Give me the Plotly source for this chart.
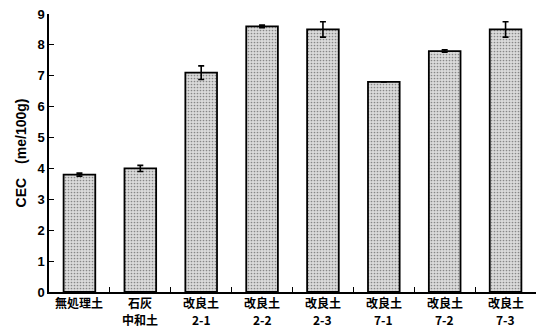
import plotly.graph_objects as go

# CEC of untreated, lime-neutralised and improved soils
categories = ["無処理土", "石灰中和土", "改良土2-1", "改良土2-2", "改良土2-3",
              "改良土7-1", "改良土7-2", "改良土7-3"]
label_line1 = ["無処理土", "石灰", "改良土", "改良土", "改良土", "改良土", "改良土", "改良土"]
label_line2 = ["", "中和土", "2-1", "2-2", "2-3", "7-1", "7-2", "7-3"]
cec_values = [3.8, 4.0, 7.1, 8.6, 8.5, 6.8, 7.8, 8.5]
cec_errors = [0.05, 0.1, 0.22, 0.04, 0.25, 0.0, 0.04, 0.25]
y_ticks = [0, 1, 2, 3, 4, 5, 6, 7, 8, 9]

fig = go.Figure(
    go.Bar(
        x=categories,
        y=cec_values,
        width=0.52,
        marker=dict(
            color="#dadada",
            line=dict(color="black", width=1.8),
            pattern=dict(shape=".", fgcolor="#333333", bgcolor="#dadada",
                         size=3, solidity=0.25),
        ),
        error_y=dict(type="data", array=cec_errors, color="black",
                     thickness=1.6, width=3),
    )
)

# two-row category labels under the axis
label_font = dict(family="Noto Sans CJK JP", size=12, color="black", weight="bold")
for cat, l1, l2 in zip(categories, label_line1, label_line2):
    fig.add_annotation(x=cat, y=0, xref="x", yref="paper", text=l1,
                       showarrow=False, yanchor="middle", yshift=-10, font=label_font)
    if l2:
        fig.add_annotation(x=cat, y=0, xref="x", yref="paper", text=l2,
                           showarrow=False, yanchor="middle", yshift=-27.5, font=label_font)

fig.update_layout(
    width=546,
    height=333,
    margin=dict(l=49, r=10, t=14, b=41, autoexpand=False),
    plot_bgcolor="white",
    paper_bgcolor="white",
    showlegend=False,
    font=dict(family="Liberation Sans, Arial", color="black"),
)

fig.update_xaxes(
    type="category",
    range=[-0.5, 7.5],
    showline=True,
    linecolor="black",
    linewidth=1.5,
    ticks="inside",
    ticklen=5,
    tickwidth=1.2,
    tickcolor="black",
    tickson="boundaries",
    showticklabels=False,
    automargin=False,
    showgrid=False,
)

fig.update_yaxes(
    range=[0, 9],
    tickvals=y_ticks,
    showline=True,
    linecolor="black",
    linewidth=1.5,
    ticks="inside",
    ticklen=5,
    tickwidth=1.2,
    tickcolor="black",
    showgrid=False,
    zeroline=False,
    automargin=False,
    tickfont=dict(size=13, weight="bold"),
    title=dict(text="CEC　(me/100g)", font=dict(size=14, weight="bold"), standoff=8),
)

fig.write_html("out.html")
